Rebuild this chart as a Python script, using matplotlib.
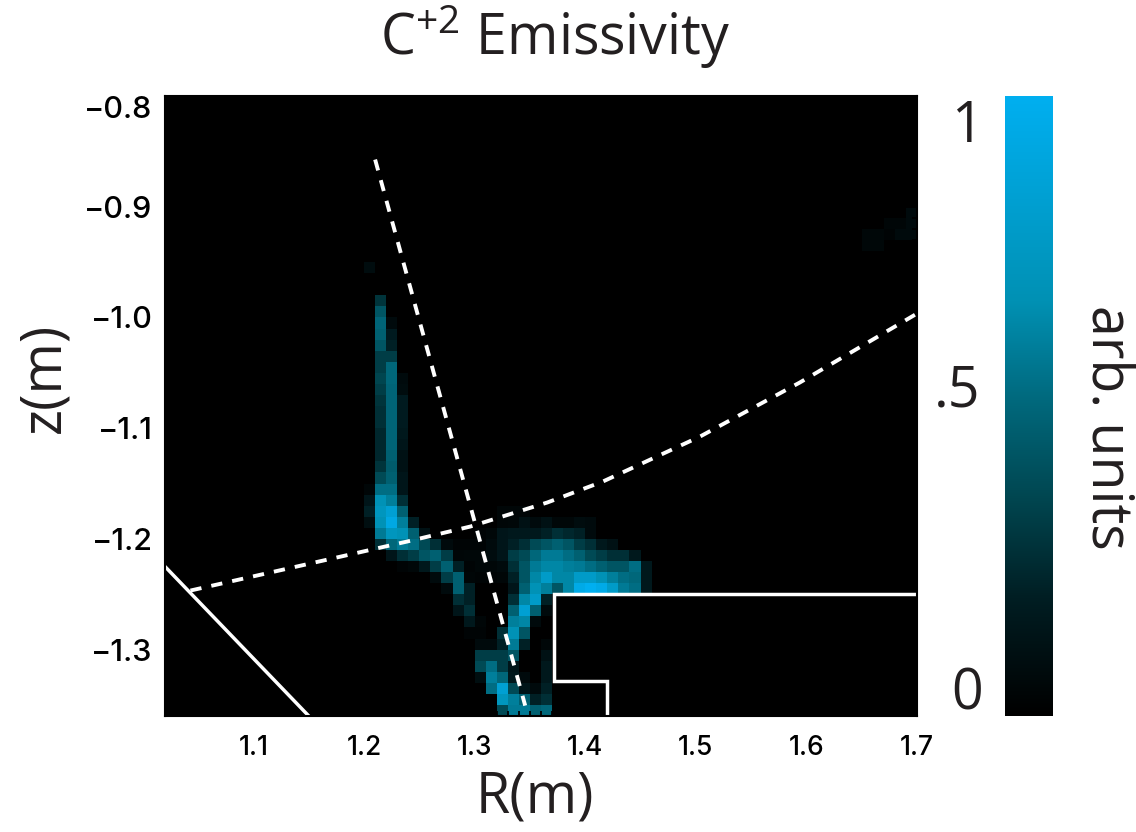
import numpy as np
import matplotlib
matplotlib.use("Agg")
import matplotlib.pyplot as plt
from matplotlib.colors import LinearSegmentedColormap
from matplotlib.ticker import MultipleLocator, FixedLocator, FixedFormatter

plt.rcParams['font.family'] = ['Open Sans', 'DejaVu Sans']
plt.rcParams['mathtext.default'] = 'regular'
plt.rcParams['axes.unicode_minus'] = True

# emissivity cells, each row is (row from the bottom, first column, values)
# the grid is 68 columns by 56 rows, column 18 sits at R=1.20
emis_rows = [
    (0, 30, [.37, .58, .58, .47, .50]),
    (1, 30, [.73, .60, .47, .20, .26]),
    (2, 29, [.53, .84, .37, .14, .07, .20]),
    (3, 28, [.09, .60, .50, .16, .07, 0, .16]),
    (4, 28, [.37, .53, .32, .14, 0, 0, .16]),
    (5, 28, [.32, .32, .32, .42, 0, 0, .11]),
    (6, 28, [.07, .07, .20, .58, .20, 0, .05]),
    (7, 27, [.03, .03, 0, .26, .68, .42]),
    (8, 27, [.16, .04, 0, 0, .60, .63, .07]),
    (9, 26, [.14, .26, 0, 0, 0, .47, .84, .47, .07]),
    (10, 26, [.26, .20, 0, 0, 0, .26, .63, .78, .20]),
    (11, 25, [.07, .47, .20, 0, 0, 0, .14, .47, .68, .60, .42, .63, .95, 1.0, .95, .78, .58, .53, .16]),
    (12, 24, [.07, .32, .47, .04, .03, .03, .04, .20, .42, .63, .78, .63, .63, .78, .78, .68, .60, .53, .50, .16]),
    (13, 21, [.03, .05, .16, .32, .47, .20, .03, .05, .05, .07, .26, .42, .58, .63, .63, .60, .58, .53, .47, .42, .42, .53, .16]),
    (14, 20, [.14, .26, .32, .42, .47, .32, .04, .05, .05, .08, .14, .32, .37, .50, .58, .58, .53, .47, .37, .32, .26, .26, .16]),
    (15, 19, [.26, .50, .58, .53, .37, .26, .07, .03, .03, .03, .07, .14, .20, .26, .37, .42, .47, .42, .32, .26, .16, .11]),
    (16, 19, [.58, .73, .68, .47, .11, 0, 0, 0, 0, .03, .05, .14, .16, .16, .16, .20, .26, .23, .20, .07]),
    (17, 18, [.09, .68, .93, .60, .20, 0, 0, 0, 0, 0, 0, 0, .04, .05, .11, .07, .11, .05, .05, .08, .07]),
    (18, 18, [.20, .73, .84, .47, 0, 0, 0, 0, 0, 0, 0, 0, .04, .04, .04]),
    (19, 18, [.14, .68, .60, .26]),
    (20, 18, [.04, .53, .53, .14]),
    (21, 19, [.37, .47, .14]),
    (22, 19, [.28, .45, .11]),
    (23, 19, [.23, .47, .11]),
    (24, 19, [.23, .49, .14]),
    (25, 19, [.23, .49, .16]),
    (26, 19, [.26, .49, .17]),
    (27, 19, [.26, .49, .17]),
    (28, 19, [.28, .49, .17]),
    (29, 19, [.32, .49, .08]),
    (30, 19, [.35, .50, .07]),
    (31, 19, [.32, .50]),
    (32, 19, [.32, .32]),
    (33, 19, [.42, .20]),
    (34, 19, [.47, .17]),
    (35, 19, [.49, .07]),
    (36, 19, [.42]),
    (37, 19, [.28]),
    (40, 18, [.08]),
    (42, 63, [.05, .05]),
    (43, 63, [.05, .05, .03, .07, .07]),
    (44, 65, [.04, .04, .07]),
    (45, 67, [.07]),
]

# machine wall
wall_left_R = [1.02, 1.15]
wall_left_z = [-1.225, -1.36]
shelf_R = [1.70, 1.372, 1.372, 1.42, 1.42]
shelf_z = [-1.2494, -1.2494, -1.328, -1.328, -1.36]

# dashed lines
leg_R = [1.21, 1.3457]
leg_z = [-0.8574, -1.3506]
sep_R = [1.043, 1.183, 1.239, 1.296, 1.3656, 1.416, 1.5038, 1.594, 1.70]
sep_z = [-1.2467, -1.2151, -1.2024, -1.1889, -1.1672, -1.1482, -1.1076, -1.0588, -0.9965]

R_ticks = [1.1, 1.2, 1.3, 1.4, 1.5, 1.6, 1.7]
z_ticks = [-0.8, -0.9, -1.0, -1.1, -1.2, -1.3]

grid = np.zeros((56, 68))
for row, col, vals in emis_rows:
    grid[row, col:col + len(vals)] = vals

cmap = LinearSegmentedColormap.from_list(
    "c2", [(0, "#000000"), (0.19, "#001e23"), (0.35, "#004650"), (0.51, "#00697d"),
           (0.67, "#0091b4"), (1, "#00aff0")])

W, H = 1136, 832
fig = plt.figure(figsize=(W / 100, H / 100), dpi=100)
ax = fig.add_axes([165 / W, 1 - 716 / H, 752 / W, 620 / H])
ax.imshow(grid, origin="lower", extent=[1.02, 1.70, -1.36, -0.80], aspect="auto",
          cmap=cmap, vmin=0, vmax=1, interpolation="nearest")

ax.plot(wall_left_R, wall_left_z, color="white", lw=2.5)
ax.plot(shelf_R, shelf_z, color="white", lw=2.5, solid_joinstyle="miter")
ax.plot(leg_R, leg_z, color="white", lw=2.8, dashes=(2.9, 2.6))
ax.plot(sep_R, sep_z, color="white", lw=2.8, dashes=(2.9, 2.6))

ax.set_xlim(1.02, 1.70)
ax.set_ylim(-1.36, -0.80)
ax.xaxis.set_major_locator(FixedLocator(R_ticks))
ax.yaxis.set_major_locator(FixedLocator(z_ticks))
ax.xaxis.set_minor_locator(MultipleLocator(0.01))
ax.yaxis.set_minor_locator(MultipleLocator(0.01))
ax.tick_params(which="major", direction="in", length=9, width=1.3, color="black",
               top=True, right=True)
ax.tick_params(which="minor", direction="in", length=3.5, width=1.3, color="black",
               top=True, right=True)
ax.tick_params(axis="x", labelsize=19, pad=14)
ax.tick_params(axis="y", labelsize=22, pad=9)
ax.xaxis.set_major_formatter(FixedFormatter(["%.1f" % v for v in R_ticks]))
ax.yaxis.set_major_formatter(FixedFormatter(["\u2212%.1f" % abs(v) for v in z_ticks]))
for lab in ax.get_xticklabels() + ax.get_yticklabels():
    lab.set_family(["Inter", "DejaVu Sans"])
    lab.set_weight("medium")
# top label would sit off the frame, it hangs below the corner in the original
ax.get_yticklabels()[0].set_va("top")
for s in ax.spines.values():
    s.set_linewidth(1.5)

# colour bar
cax = fig.add_axes([1005 / W, 1 - 716 / H, 48 / W, 620 / H])
cax.imshow(np.linspace(0, 1, 256)[:, None], origin="lower", aspect="auto", cmap=cmap,
           extent=[0, 1, 0, 1])
cax.axis("off")

text_col = "#231f20"
fig.text(555 / W, 1 - 37 / H, "C$^{+2}$ Emissivity", fontsize=40, ha="center", va="center", color=text_col)
fig.text(535 / W, 1 - 798 / H, "R(m)", fontsize=40, ha="center", va="center", color=text_col)
fig.text(45 / W, 1 - 378 / H, "z(m)", fontsize=40, rotation=90, ha="center", va="center", color=text_col)
fig.text(1106 / W, 1 - 427 / H, "arb. units", fontsize=40, rotation=-90, ha="center", va="center", color=text_col)
fig.text(967 / W, 1 - 128 / H, "1", fontsize=40, ha="center", va="center", color=text_col)
fig.text(957 / W, 1 - 392 / H, ".5", fontsize=40, ha="center", va="center", color=text_col)
fig.text(967 / W, 1 - 695 / H, "0", fontsize=40, ha="center", va="center", color=text_col)

fig.savefig("out.png", dpi=100)
